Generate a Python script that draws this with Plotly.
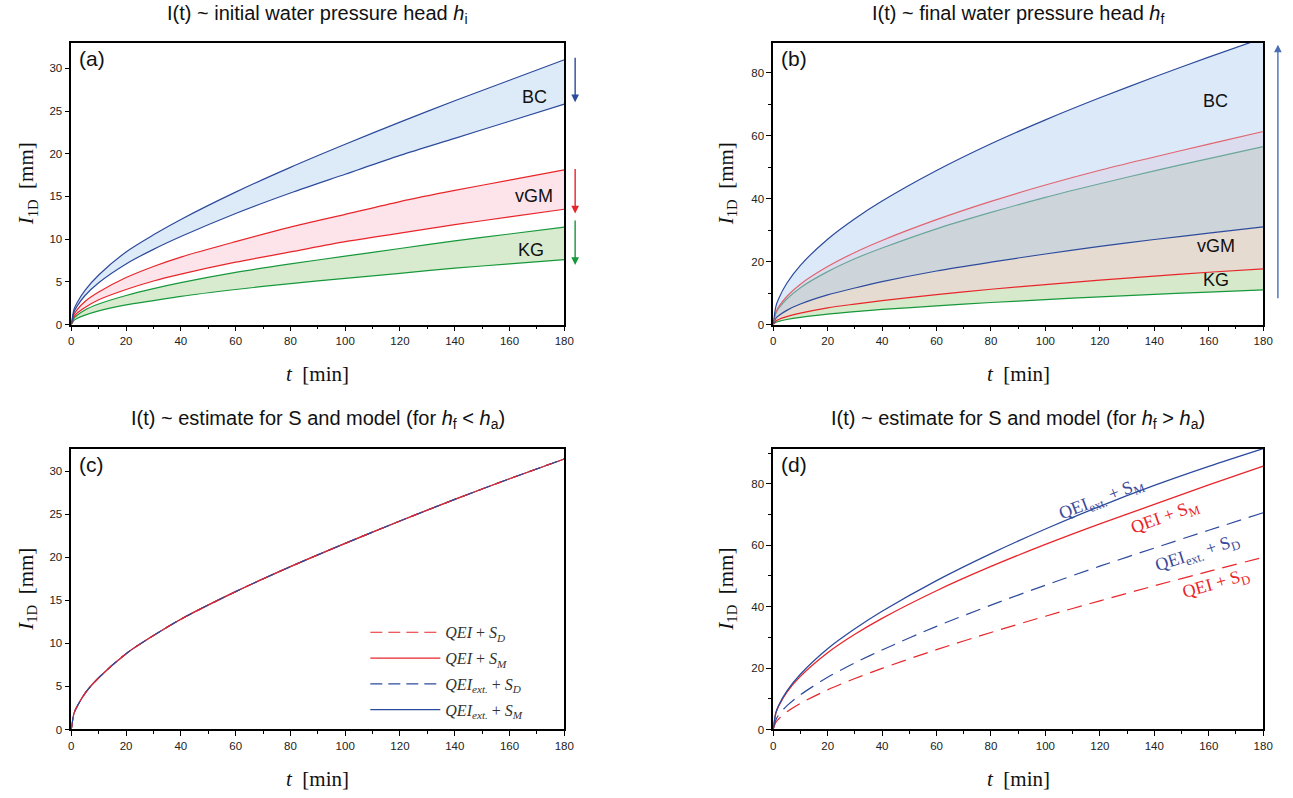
import plotly.graph_objects as go

# ---------------- data ----------------
T = [0, 1, 2, 5, 10, 20, 30, 40, 60, 80, 100, 120, 140, 160, 180]

# (a) initial water pressure head
a_bc_hi = [0, 1.8, 2.5, 4.0, 5.8, 8.5, 10.5, 12.3, 15.5, 18.4, 21.1, 23.7, 26.2, 28.6, 31.0]
a_bc_lo = [0, 1.5, 2.1, 3.4, 4.9, 7.1, 8.8, 10.3, 13.0, 15.4, 17.6, 19.8, 21.8, 23.8, 25.8]
a_vgm_hi = [0, 1.2, 1.7, 2.7, 3.8, 5.5, 6.8, 7.9, 9.7, 11.4, 12.9, 14.4, 15.7, 16.9, 18.1]
a_vgm_lo = [0, 0.9, 1.3, 2.0, 2.9, 4.1, 5.1, 5.9, 7.3, 8.5, 9.7, 10.7, 11.7, 12.6, 13.5]
a_kg_hi = [0, 0.75, 1.05, 1.7, 2.4, 3.4, 4.2, 4.9, 6.1, 7.1, 8.0, 8.9, 9.8, 10.6, 11.4]
a_kg_lo = [0, 0.5, 0.7, 1.1, 1.6, 2.3, 2.8, 3.3, 4.1, 4.8, 5.4, 6.0, 6.6, 7.1, 7.6]

# (b) final water pressure head
b_bc_hi = [0, 5.8, 8.2, 13.1, 18.8, 27.1, 33.6, 39.2, 48.9, 57.4, 65.0, 72.0, 78.6, 84.9, 91.0]
b_vgm_hi = [0, 3.9, 5.6, 8.9, 12.8, 18.4, 22.9, 26.7, 33.3, 39.1, 44.3, 49.0, 53.2, 57.3, 61.3]
b_kg_hi = [0, 3.6, 5.1, 8.1, 11.7, 16.8, 20.9, 24.3, 30.4, 35.6, 40.4, 44.7, 48.8, 52.7, 56.5]
b_bc_lo = [0, 2.0, 2.8, 4.5, 6.5, 9.4, 11.6, 13.6, 17.0, 19.8, 22.4, 24.8, 27.0, 29.0, 31.0]
b_vgm_lo = [0, 1.1, 1.6, 2.5, 3.6, 5.3, 6.5, 7.6, 9.5, 11.2, 12.7, 14.1, 15.4, 16.6, 17.7]
b_kg_lo = [0, 0.7, 1.0, 1.6, 2.3, 3.3, 4.1, 4.8, 5.9, 7.0, 7.9, 8.8, 9.6, 10.3, 11.0]

# (c) estimate for S and model, hf < ha
c_qei_sd = [0, 1.9, 2.6, 4.2, 6.0, 8.8, 10.9, 12.8, 16.0, 18.9, 21.6, 24.2, 26.7, 29.1, 31.4]
c_qei_sm = [0, 1.9, 2.6, 4.2, 6.0, 8.8, 10.9, 12.8, 16.0, 18.9, 21.6, 24.2, 26.7, 29.1, 31.4]
c_ext_sd = [0, 1.9, 2.6, 4.2, 6.0, 8.8, 10.9, 12.8, 16.0, 18.9, 21.6, 24.2, 26.7, 29.1, 31.4]
c_ext_sm = [0, 1.9, 2.6, 4.2, 6.0, 8.8, 10.9, 12.8, 16.0, 18.9, 21.6, 24.2, 26.7, 29.1, 31.4]

# (d) estimate for S and model, hf > ha
d_ext_sm = [0, 5.5, 7.8, 12.5, 18.0, 26.3, 32.8, 38.5, 48.5, 57.3, 65.3, 72.7, 79.5, 85.7, 91.5]
d_qei_sm = [0, 5.4, 7.6, 12.1, 17.3, 25.0, 31.0, 36.2, 45.2, 53.1, 60.3, 67.0, 73.3, 79.7, 85.8]
d_ext_sd = [0, 3.2, 4.7, 7.7, 11.3, 17.0, 21.7, 25.9, 33.6, 40.5, 47.0, 53.2, 59.1, 64.9, 70.6]
d_qei_sd = [0, 2.4, 3.4, 5.7, 8.5, 12.9, 16.6, 19.9, 26.0, 31.6, 36.9, 41.9, 46.8, 51.5, 56.1]

TITLES = [
    "I(t) ~ initial water pressure head <i>h</i><sub>i</sub>",
    "I(t) ~ final water pressure head <i>h</i><sub>f</sub>",
    "I(t) ~ estimate for S and model (for <i>h</i><sub>f</sub> &lt; <i>h</i><sub>a</sub>)",
    "I(t) ~ estimate for S and model (for <i>h</i><sub>f</sub> &gt; <i>h</i><sub>a</sub>)",
]
LETTERS = ["(a)", "(b)", "(c)", "(d)"]

# ---------------- styling ----------------
W, H = 1293, 798
BLUE = "#2d4b9c"
RED = "#e8262a"
GREEN = "#17983b"
SANS = "Liberation Sans, Arial, sans-serif"
SERIF = "Liberation Serif, Times New Roman, serif"

XD = [[69 / W, 567 / W], [778 / W, 1273 / W]]
YD = [[1 - 327 / H, 1 - 43 / H], [1 - 735 / H, 1 - 452 / H]]

fig = go.Figure()


def add(x, y, xa, ya, color="rgba(0,0,0,0)", width=1.2, dash="solid",
        fill=None, fillcolor=None, name=None, showlegend=False, rank=1000):
    fig.add_trace(go.Scatter(
        x=x, y=y, xaxis=xa, yaxis=ya, mode="lines",
        line=dict(color=color, width=width, dash=dash, shape="spline", smoothing=0.8),
        fill=fill, fillcolor=fillcolor, name=name, showlegend=showlegend,
        legendgroup=name if name else None,
        legendrank=rank, hoverinfo="skip"))


# (a) bands
for lo, hi, fc in [(a_kg_lo, a_kg_hi, "#d9ebcf"), (a_vgm_lo, a_vgm_hi, "#fde3ea"),
                   (a_bc_lo, a_bc_hi, "#ddeaf7")]:
    add(T, lo, "x", "y", width=0)
    add(T, hi, "x", "y", width=0, fill="tonexty", fillcolor=fc)
for ys, c in [(a_kg_lo, GREEN), (a_kg_hi, GREEN), (a_vgm_lo, RED), (a_vgm_hi, RED),
              (a_bc_lo, BLUE), (a_bc_hi, BLUE)]:
    add(T, ys, "x", "y", color=c, width=1.2)

# (b) overlapping bands (layered regions)
add(T, b_kg_lo, "x2", "y2", width=0)
for ys, fc in [(b_vgm_lo, "#d6e9cb"), (b_bc_lo, "#e5dbd1"), (b_kg_hi, "#cdd5da"),
               (b_vgm_hi, "#dcdcef"), (b_bc_hi, "#dbe9f8")]:
    add(T, ys, "x2", "y2", width=0, fill="tonexty", fillcolor=fc)
for ys, c in [(b_kg_lo, GREEN), (b_vgm_lo, RED), (b_bc_lo, BLUE), (b_kg_hi, "#6aa69a"),
              (b_vgm_hi, "#e0646f"), (b_bc_hi, BLUE)]:
    add(T, ys, "x2", "y2", color=c, width=1.2)

# (c)
L_QSD = "<i>QEI</i> + <i>S<sub>D</sub></i>"
L_QSM = "<i>QEI</i> + <i>S<sub>M</sub></i>"
L_ESD = "<i>QEI<sub>ext.</sub></i> + <i>S<sub>D</sub></i>"
L_ESM = "<i>QEI<sub>ext.</sub></i> + <i>S<sub>M</sub></i>"
add(T, c_ext_sm, "x3", "y3", color=BLUE, width=1.2, name=L_ESM, showlegend=True, rank=4)
add(T, c_qei_sm, "x3", "y3", color=RED, width=1.2, name=L_QSM, showlegend=True, rank=2)
add(T, c_ext_sd, "x3", "y3", color=BLUE, width=1.2, dash="12px,6px", name=L_ESD, showlegend=True, rank=3)
add(T, c_qei_sd, "x3", "y3", color=RED, width=1.2, dash="6px,12px", name=L_QSD, showlegend=False, rank=1)
add([None], [None], "x3", "y3", color=RED, width=1.2, dash="12px,6px", name=L_QSD, showlegend=True, rank=1)

# (d)
add(T, d_qei_sd, "x4", "y4", color=RED, width=1.2, dash="15px,8px")
add(T, d_ext_sd, "x4", "y4", color=BLUE, width=1.2, dash="15px,8px")
add(T, d_qei_sm, "x4", "y4", color=RED, width=1.3)
add(T, d_ext_sm, "x4", "y4", color=BLUE, width=1.3)

# ---------------- axes ----------------
YR = [[0, 33], [0, 89.5], [0, 32.6], [0, 91.5]]
YDT = [5, 20, 5, 20]
for i in range(4):
    sfx = "" if i == 0 else str(i + 1)
    col, row = i % 2, i // 2
    common = dict(showline=True, linecolor="black", linewidth=1.5, mirror=True,
                  ticks="outside", ticklen=5, tickwidth=1, tickcolor="black",
                  showgrid=False, zeroline=False,
                  tickfont=dict(family=SANS, size=11.5, color="#222"))
    fig.layout["xaxis" + sfx] = dict(common, domain=XD[col], range=[0, 180], dtick=20,
                                     anchor="y" + sfx,
                                     minor=dict(ticks="outside", ticklen=3, dtick=10, tickcolor="black"))
    ymin = dict(ticks="outside", ticklen=3, dtick=10, tickcolor="black") if YDT[i] == 20 else dict(ticks="")
    fig.layout["yaxis" + sfx] = dict(common, domain=YD[row], range=YR[i], dtick=YDT[i],
                                     anchor="x" + sfx, minor=ymin)

ann = []
for i in range(4):
    col, row = i % 2, i // 2
    xc = (XD[col][0] + XD[col][1]) / 2
    ty = 1 - (15 if row == 0 else 423) / H
    ann.append(dict(text=TITLES[i], x=xc, y=ty, xref="paper", yref="paper", showarrow=False,
                    xanchor="center", yanchor="middle", font=dict(family=SANS, size=20, color="#111")))
    xty = 1 - (377 if row == 0 else 785) / H
    ann.append(dict(text="<i>t</i>  [min]", x=xc, y=xty, xref="paper", yref="paper", showarrow=False,
                    xanchor="center", yanchor="middle", font=dict(family=SERIF, size=21, color="#111")))
    yc = (YD[row][0] + YD[row][1]) / 2
    yx = (24 if col == 0 else 731) / W
    ann.append(dict(text="<i>I</i><sub>1D</sub>  [mm]", x=yx, y=yc, xref="paper", yref="paper",
                    showarrow=False, textangle=-90, xanchor="center", yanchor="middle",
                    font=dict(family=SERIF, size=21, color="#111")))
    sfx = "" if i == 0 else str(i + 1)
    ann.append(dict(text=LETTERS[i], x=0.012, y=0.99, xref="x" + sfx + " domain", yref="y" + sfx + " domain",
                    showarrow=False, xanchor="left", yanchor="top", font=dict(family=SANS, size=21, color="#111")))

# band labels
for txt, xx, yy, xa, ya in [("BC", 169, 26.6, "x", "y"), ("vGM", 169, 15.1, "x", "y"), ("KG", 168, 8.7, "x", "y"),
                            ("BC", 162.5, 71, "x2", "y2"), ("vGM", 162.5, 24.9, "x2", "y2"),
                            ("KG", 162.5, 14.2, "x2", "y2")]:
    ann.append(dict(text=txt, x=xx, y=yy, xref=xa, yref=ya, showarrow=False,
                    font=dict(family=SANS, size=18, color="#111")))

# arrows in (a)
for tipy, c in [(0.789, BLUE), (0.394, RED), (0.211, GREEN)]:
    ann.append(dict(x=1.022, y=tipy, xref="x domain", yref="y domain", ax=0, ay=-46, text="",
                    showarrow=True, arrowhead=2, arrowsize=1.1, arrowwidth=1.4, arrowcolor=c))
# arrow in (b)
ann.append(dict(x=1.03, y=0.993, xref="x2 domain", yref="y2 domain", ax=0, ay=255, text="",
                showarrow=True, arrowhead=2, arrowsize=1.1, arrowwidth=1.4, arrowcolor="#4a6fb5"))

# curve labels in (d)
for txt, xx, yy, ang, c in [("QEI<sub>ext.</sub> + S<sub>M</sub>", 120.5, 75.0, -21, "#3a4a9a"),
                            ("QEI + S<sub>M</sub>", 144, 69.0, -20, RED),
                            ("QEI<sub>ext.</sub> + S<sub>D</sub>", 156, 57.4, -18, "#3a4a9a"),
                            ("QEI + S<sub>D</sub>", 162.5, 47.3, -16, RED)]:
    ann.append(dict(text=txt, x=xx, y=yy, xref="x4", yref="y4", showarrow=False, textangle=ang,
                    font=dict(family=SERIF, size=18, color=c)))

fig.update_layout(
    width=W, height=H, margin=dict(l=0, r=0, t=0, b=0),
    paper_bgcolor="white", plot_bgcolor="white",
    annotations=ann,
    legend=dict(x=366 / W, y=1 - 620 / H, xanchor="left", yanchor="top", bgcolor="rgba(0,0,0,0)",
                traceorder="grouped", font=dict(family=SERIF, size=16, color="#333"),
                itemwidth=70, tracegroupgap=2),
)

fig.write_html("out.html", config={"displayModeBar": False},
               post_script="document.body.style.margin='0px';")
